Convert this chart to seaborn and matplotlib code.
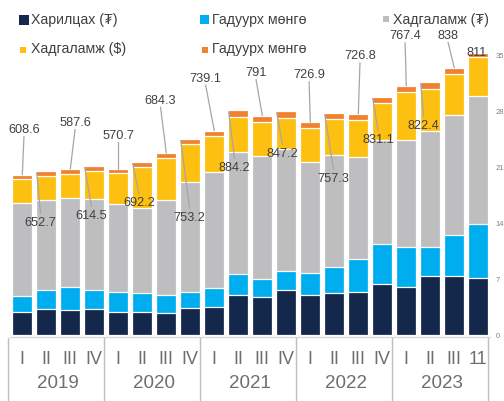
import matplotlib
matplotlib.use("Agg")
import matplotlib.pyplot as plt
import seaborn as sns
import numpy as np
from matplotlib.patches import Rectangle
from matplotlib.transforms import blended_transform_factory

# ---------------- data ----------------
years = ["2019", "2020", "2021", "2022", "2023"]
quarters = ["I", "II", "III", "IV"] * 4 + ["I", "II", "III", "11"]

current_mnt = [2.92, 3.29, 3.08, 3.21, 2.83, 2.83, 2.79, 3.33, 3.50, 5.04,
               4.75, 5.63, 4.96, 5.21, 5.38, 6.33, 5.96, 7.42, 7.33, 7.17]
currency_1 = [2.00, 2.38, 2.96, 2.37, 2.59, 2.38, 2.17, 2.04, 2.33, 2.54,
              2.21, 2.33, 2.79, 3.29, 4.12, 5.00, 5.08, 3.62, 5.13, 6.67]
deposits_mnt = [11.54, 11.17, 11.04, 11.38, 11.00, 10.70, 11.90, 13.75, 14.50, 15.30,
                15.46, 15.25, 13.88, 13.96, 12.71, 13.08, 13.30, 14.50, 15.00, 16.04]
deposits_usd = [3.00, 3.00, 3.04, 3.54, 3.79, 5.10, 5.25, 4.75, 4.50, 4.38,
                4.21, 3.90, 4.20, 4.54, 4.62, 4.58, 6.04, 5.25, 5.13, 4.92]
currency_2 = [0.58, 0.63, 0.63, 0.67, 0.54, 0.63, 0.63, 0.67, 0.70, 0.83,
              0.79, 0.88, 0.75, 0.75, 0.80, 0.79, 0.75, 0.83, 0.80, 0.50]

series_names = ["Харилцах (₮)", "Гадуурх мөнгө", "Хадгаламж (₮)", "Хадгаламж ($)", "Гадуурх мөнгө"]

total_labels = ["608.6", "652.7", "587.6", "614.5", "570.7", "692.2", "684.3", "753.2",
                "739.1", "884.2", "791", "847.2", "726.9", "757.3", "726.8", "831.1",
                "767.4", "822.4", "838", "811"]

y_ticks = [0, 7, 14, 21, 28, 35]

# ---------------- styling / layout ----------------
series_colors = ["#14284B", "#00AEEF", "#BEBEC1", "#FDBF10", "#F0812F"]
label_dy = [5.6, -6.45, 5.75, -6.3, 4.15, -5.2, 6.55, -9.95, 6.5, -7.2,
            5.3, -5.4, 5.9, -8.25, 7.2, -5.4, 6.2, -5.5, 4.0, -0.1]
label_dx = [0.07, -0.24, 0.2, -0.12, 0.0, -0.14, -0.24, -0.03, -0.36, -0.16,
            -0.26, -0.16, -0.05, -0.03, 0.07, -0.18, -0.05, -0.28, -0.26, -0.05]

FONT = ["Liberation Sans", "DejaVu Sans"]
sns.set_theme(style="white")
plt.rcParams["font.family"] = FONT

W, H = 504, 401
fig = plt.figure(figsize=(W / 100, H / 100), dpi=100)

y_lo, y_hi = -0.2, 41.5
ppu = 8.0  # pixels per unit
ax_bottom_px = 335 + (-y_lo) * ppu
ax_top_px = ax_bottom_px - (y_hi - y_lo) * ppu
ax_left_px, ax_right_px = 10.3, 490.3
ax = fig.add_axes([ax_left_px / W, (H - ax_bottom_px) / H,
                   (ax_right_px - ax_left_px) / W, (ax_bottom_px - ax_top_px) / H])

cats = [f"{years[i // 4]}-{q}" for i, q in enumerate(quarters)]
layers = np.array([current_mnt, currency_1, deposits_mnt, deposits_usd, currency_2])
stack = np.cumsum(layers, axis=0)

for k in range(len(layers) - 1, -1, -1):
    sns.barplot(x=cats, y=stack[k], order=cats, color=series_colors[k], saturation=1,
                width=0.83, edgecolor="white", linewidth=0.9, errorbar=None, ax=ax)

n = len(cats)
ax.set_xlim(-0.5, n - 0.5)
ax.set_ylim(y_lo, y_hi)
for s in ax.spines.values():
    s.set_visible(False)
ax.set_xlabel("")
ax.set_ylabel("")
ax.set_xticks([])
ax.yaxis.tick_right()
ax.set_yticks(y_ticks)
ax.set_yticklabels([str(t) for t in y_ticks])
ax.tick_params(axis="y", length=0, pad=4, labelsize=5.5, labelcolor="#808080")
ax.grid(False)

# baseline
ax.axhline(y_lo, color="#D9D9D9", lw=1.0, clip_on=False, zorder=0)

# total labels with leader lines
totals = stack[-1]
label_color = "#404040"
line_color = "#A6A6A6"
for i, txt in enumerate(total_labels):
    lx = i + label_dx[i]
    ly = totals[i] + label_dy[i]
    ax.text(lx, ly, txt, ha="center", va="center", fontsize=9.2, color=label_color, zorder=6)
    if label_dy[i] > 1:
        ax.plot([lx, i], [ly - 0.8, totals[i]], color=line_color, lw=0.9, zorder=5)
    elif label_dy[i] < -1:
        ax.plot([i - 0.4, lx], [totals[i] - 0.2, ly + 1.2], color=line_color, lw=0.9, zorder=5)

# category axis: quarters, years, separators
trans = blended_transform_factory(ax.transData, ax.transAxes)
ax_h_px = ax_bottom_px - ax_top_px
q_y = -(360 - ax_bottom_px) / ax_h_px
yr_y = -(383.5 - ax_bottom_px) / ax_h_px
sep_bottom = -(H - ax_bottom_px) / ax_h_px
for i, q in enumerate(quarters):
    ax.text(i, q_y, q, transform=trans, ha="center", va="center",
            fontsize=13, color="#6E6E6E", clip_on=False)
for g, yr in enumerate(years):
    ax.text(g * 4 + 1.5, yr_y, yr, transform=trans, ha="center", va="center",
            fontsize=13.5, color="#6E6E6E", clip_on=False)
for g in range(len(years) + 1):
    xb = g * 4 - 0.58
    ax.plot([xb, xb], [-0.003, sep_bottom], transform=trans, color="#BFBFBF",
            lw=1.0, clip_on=False)

# legend (manual placement)
leg_pos = [(19, 15, 10, 31, 20), (200, 15, 9, 212, 20), (383, 16, 6, 393, 20),
           (20, 47, 6, 31, 49.5), (202, 47, 6, 212, 49.5)]
leg_order = [0, 1, 2, 3, 4]
for k, (mx, my, ms, tx, ty) in zip(leg_order, leg_pos):
    fig.patches.append(Rectangle((mx / W, 1 - (my + ms) / H), ms / W, ms / H,
                                 transform=fig.transFigure, facecolor=series_colors[k],
                                 edgecolor="none"))
    fig.text(tx / W, 1 - ty / H, series_names[k], ha="left", va="center",
             fontsize=10.2, color="#3F3F3F", family=FONT)

fig.savefig("out.png", dpi=100)
